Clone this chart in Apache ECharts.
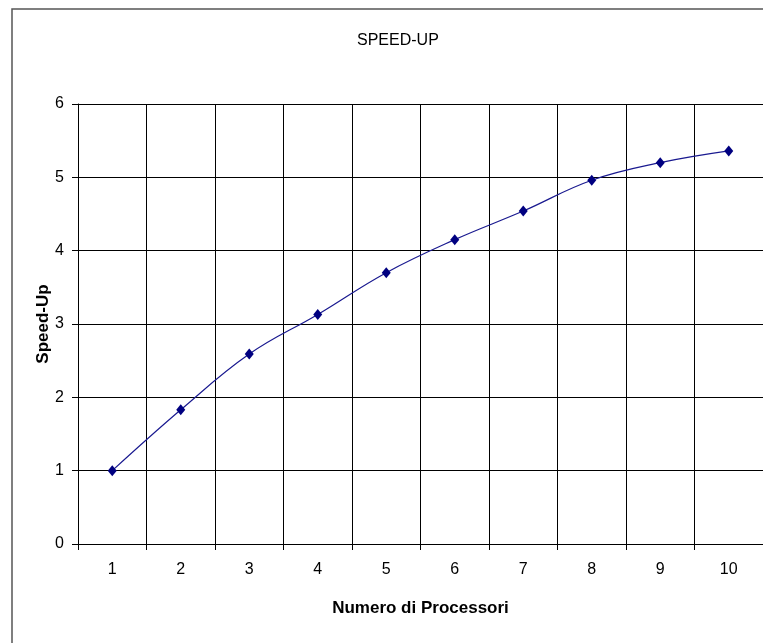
<!DOCTYPE html>
<html>
<head>
<meta charset="utf-8">
<script src="https://cdn.jsdelivr.net/npm/echarts@6/dist/echarts.min.js"></script>
<style>
  html, body { margin: 0; padding: 0; background: #fff; }
  #chart { width: 763px; height: 643px; }
</style>
</head>
<body>
<div id="chart"></div>
<script>
// Speed-up measured against the number of processors
const processors = ['1', '2', '3', '4', '5', '6', '7', '8', '9', '10'];
const speedUp = [1.0, 1.83, 2.59, 3.13, 3.70, 4.15, 4.54, 4.96, 5.20, 5.36];
const yTicks = [0, 1, 2, 3, 4, 5, 6];

const FONT = '"Liberation Sans", Arial, sans-serif';

const chart = echarts.init(document.getElementById('chart'), null, { renderer: 'canvas' });

chart.setOption({
  backgroundColor: '#ffffff',
  animation: false,
  title: {
    text: 'SPEED-UP',
    left: 352,
    top: 28,
    textStyle: { fontFamily: FONT, fontSize: 16, fontWeight: 'normal', color: '#000' }
  },
  graphic: [{
    type: 'rect',
    shape: { x: 12, y: 9, width: 800, height: 700 },
    style: { fill: 'none', stroke: '#555', lineWidth: 1.5 },
    silent: true,
    z: 100
  }],
  grid: { left: 78, top: 104, right: -1, bottom: 99, containLabel: false },
  xAxis: {
    type: 'category',
    data: processors,
    boundaryGap: true,
    name: 'Numero di Processori',
    nameLocation: 'middle',
    nameGap: 56,
    nameMoveOverlap: false,
    nameTextStyle: { fontFamily: FONT, fontSize: 17, fontWeight: 'bold', color: '#000' },
    axisLine: { show: true, lineStyle: { color: '#000', width: 1 } },
    axisTick: { show: true, length: 6, alignWithLabel: false, lineStyle: { color: '#000' } },
    axisLabel: { margin: 18, fontFamily: FONT, fontSize: 16, color: '#000' },
    splitLine: { show: true, lineStyle: { color: '#000', width: 1 } }
  },
  yAxis: {
    type: 'value',
    min: yTicks[0],
    max: yTicks[yTicks.length - 1],
    interval: 1,
    name: 'Speed-Up',
    nameLocation: 'middle',
    nameRotate: 90,
    nameGap: 26,
    nameMoveOverlap: false,
    nameTextStyle: { fontFamily: FONT, fontSize: 17, fontWeight: 'bold', color: '#000' },
    axisLine: { show: true, lineStyle: { color: '#000', width: 1 } },
    axisTick: { show: true, length: 6, lineStyle: { color: '#000' } },
    axisLabel: { margin: 14, fontFamily: FONT, fontSize: 16, color: '#000' },
    splitLine: { show: true, lineStyle: { color: '#000', width: 1 } }
  },
  series: [{
    type: 'line',
    data: speedUp,
    smooth: 0.4,
    symbol: 'diamond',
    symbolSize: [9, 11],
    itemStyle: { color: '#000080' },
    lineStyle: { color: '#1a1a90', width: 1.2 },
    z: 5
  }]
});
</script>
</body>
</html>
